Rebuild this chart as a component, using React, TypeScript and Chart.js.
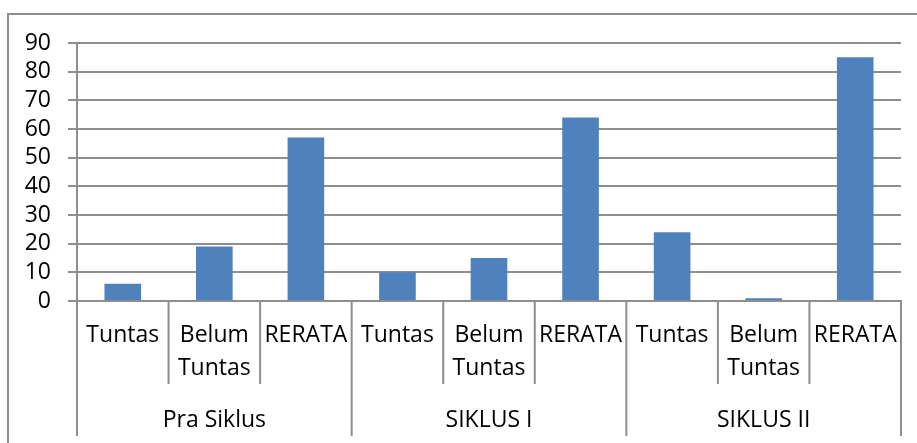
import React, { useEffect, useRef } from "react";
import { Chart, registerables } from "chart.js";

Chart.register(...registerables);

const groups = ["Pra Siklus", "SIKLUS I", "SIKLUS II"];
const subLabels: (string | string[])[] = [
  "Tuntas", ["Belum", "Tuntas"], "RERATA",
  "Tuntas", ["Belum", "Tuntas"], "RERATA",
  "Tuntas", ["Belum", "Tuntas"], "RERATA",
];
const values = [6, 19, 57, 10, 15, 64, 24, 1, 85];
const yMin = 0;
const yMax = 90;
const yStep = 10;

const GRID = "#8e8e8e";
const FONT = "'Open Sans', sans-serif";
const FONT_SIZE = 23;

const multiLevelPlugin = {
  id: "multiLevel",
  beforeDraw(chart: any) {
    const ctx = chart.ctx;
    ctx.save();
    ctx.strokeStyle = GRID;
    ctx.lineWidth = 2;
    ctx.strokeRect(8, 14, 2000, 2000);
    ctx.restore();
  },
  afterDraw(chart: any) {
    const x = chart.scales.x;
    const ctx = chart.ctx;
    const bottom = chart.chartArea.bottom;
    const n = subLabels.length;
    const per = n / groups.length;
    const half = n > 1 ? (x.getPixelForTick(1) - x.getPixelForTick(0)) / 2 : x.width / 2;
    ctx.save();
    ctx.strokeStyle = GRID;
    ctx.lineWidth = 2;
    for (let i = 0; i <= n; i++) {
      const px = i < n ? x.getPixelForTick(i) - half : x.getPixelForTick(n - 1) + half;
      const isGroup = i % per === 0;
      const len = isGroup ? 135 : 83;
      ctx.beginPath();
      ctx.moveTo(px, bottom);
      ctx.lineTo(px, bottom + len);
      ctx.stroke();
    }
    ctx.fillStyle = "#000";
    ctx.font = `${FONT_SIZE}px ${FONT}`;
    ctx.textAlign = "center";
    ctx.textBaseline = "middle";
    groups.forEach((g, gi) => {
      const a = x.getPixelForTick(gi * per) - half;
      const b = x.getPixelForTick(gi * per + per - 1) + half;
      ctx.fillText(g, (a + b) / 2, bottom + 119);
    });
    ctx.restore();
  },
};

export default function App() {
  const ref = useRef<HTMLCanvasElement>(null);
  useEffect(() => {
    document.body.style.margin = "0";
    const chart = new Chart(ref.current!, {
      type: "bar",
      data: {
        labels: subLabels as any,
        datasets: [
          {
            data: values,
            backgroundColor: "#4F81BD",
            borderWidth: 0,
            barPercentage: 0.4,
            categoryPercentage: 1,
          },
        ],
      },
      options: {
        animation: false,
        responsive: false,
        layout: { padding: { top: 43, right: 16, left: 0, bottom: 0 } },
        plugins: { legend: { display: false }, tooltip: { enabled: false } },
        scales: {
          x: {
            grid: { display: false, drawTicks: false },
            border: { display: true, color: GRID, width: 2 },
            ticks: {
              color: "#000",
              font: { family: FONT, size: FONT_SIZE, lineHeight: 1.43 },
              padding: 18,
              autoSkip: false,
              maxRotation: 0,
              minRotation: 0,
            },
            afterFit: (s: any) => {
              s.height = 142;
            },
          },
          y: {
            min: yMin,
            max: yMax,
            ticks: {
              stepSize: yStep,
              maxTicksLimit: 20,
              autoSkip: false,
              color: "#000",
              font: { family: FONT, size: FONT_SIZE, lineHeight: 1 },
              padding: 17,
            },
            grid: { color: GRID, lineWidth: 2, tickLength: 9 },
            border: { display: true, color: GRID, width: 2 },
            afterFit: (s: any) => {
              s.width = 77;
            },
          },
        },
      },
      plugins: [multiLevelPlugin],
    });
    return () => chart.destroy();
  }, []);
  return (
    <div style={{ width: 917, height: 443 }}>
      <canvas ref={ref} width={917} height={443} style={{ display: "block" }} />
    </div>
  );
}
